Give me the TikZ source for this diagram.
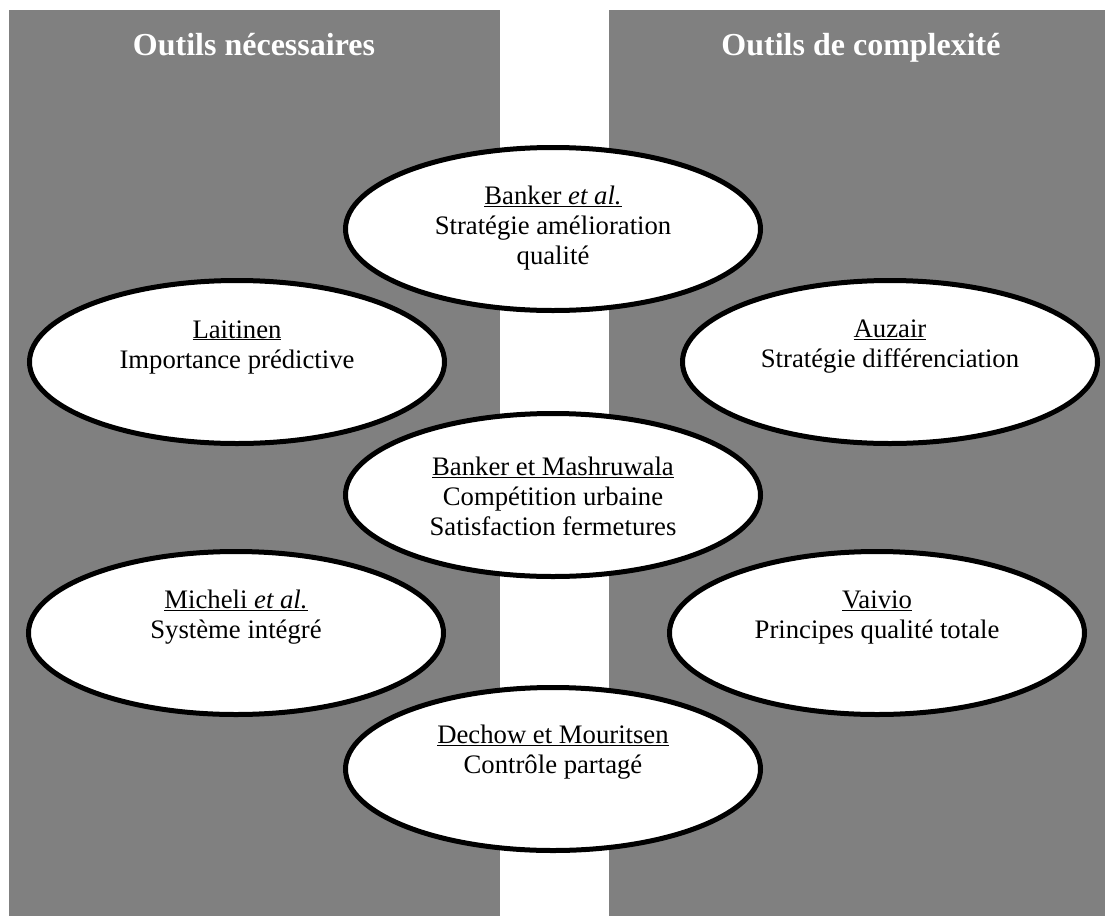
\documentclass[tikz,border=0pt]{standalone}
\usepackage{fontspec}
\setmainfont{Liberation Serif}
\usetikzlibrary{shapes.geometric}
\definecolor{panelgray}{RGB}{128,128,128}
\tikzset{
  panel/.style={fill=panelgray, draw=none},
  elli/.style={ellipse, draw=black, fill=white, line width=5pt, inner sep=0pt,
               minimum width=415pt, minimum height=163pt},
  lbl/.style={align=center, inner sep=0pt, text=black,
              font=\fontsize{26.7}{30}\selectfont},
  ttl/.style={inner sep=0pt, anchor=base, text=white, font=\fontsize{32}{36}\selectfont\bfseries}
}
\begin{document}
\begin{tikzpicture}[x=1pt, y=-1pt]
\useasboundingbox (0,0) rectangle (1105,916);
\fill[white] (0,0) rectangle (1105,916);
% panels
\path[panel] (9,10) rectangle (500,916);
\path[panel] (609,10) rectangle (1105,916);
\node[ttl] (t1) at (254,55) {Outils nécessaires};
\node[ttl] (t2) at (861,55) {Outils de complexité};
% ellipses
\node[elli] (e1) at (553,229) {};
\node[lbl] (l1) at (553,228) {\underline{Banker \textit{et al.}}\\Stratégie amélioration\\qualité};
\node[elli] (e2) at (237,362) {};
\node[lbl] (l2) at (237,347) {\underline{Laitinen}\\Importance prédictive};
\node[elli] (e3) at (890,362) {};
\node[lbl] (l3) at (890,347) {\underline{Auzair}\\Stratégie différenciation};
\node[elli] (e4) at (553,495) {};
\node[lbl] (l4) at (553,496) {\underline{Banker et Mashruwala}\\Compétition urbaine\\Satisfaction fermetures};
\node[elli] (e5) at (236,633) {};
\node[lbl] (l5) at (236,617) {\underline{Micheli \textit{et al.}}\\Système intégré};
\node[elli] (e6) at (877,633) {};
\node[lbl] (l6) at (877,617) {\underline{Vaivio}\\Principes qualité totale};
\node[elli] (e7) at (553,769) {};
\node[lbl] (l7) at (553,752) {\underline{Dechow et Mouritsen}\\Contrôle partagé};
\end{tikzpicture}
\end{document}
